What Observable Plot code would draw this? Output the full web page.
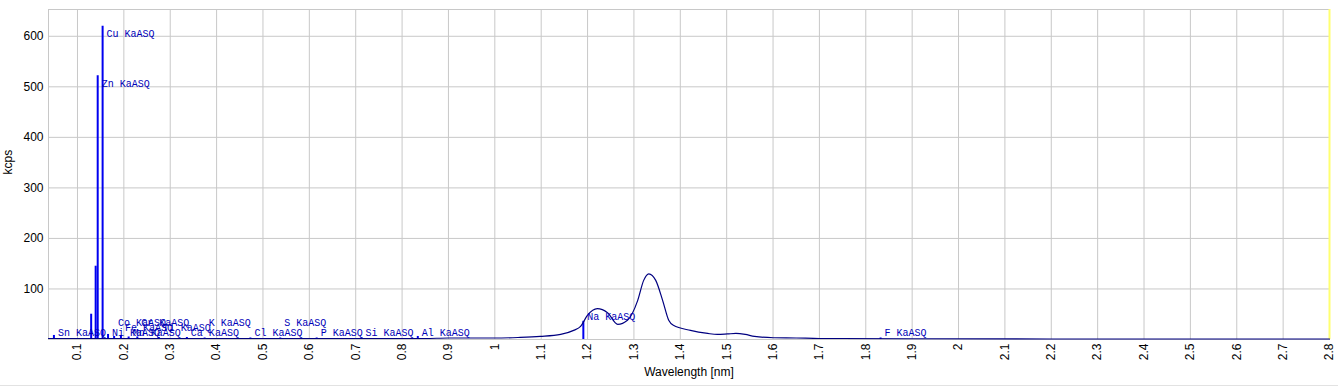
<!DOCTYPE html>
<html>
<head>
<meta charset="utf-8">
<script src="https://cdn.jsdelivr.net/npm/d3@7"></script>
<script src="https://cdn.jsdelivr.net/npm/@observablehq/plot@0.6"></script>
<style>
  html, body { margin: 0; padding: 0; background: #fff; }
  #chart { width: 1338px; height: 385px; border-bottom: 1px solid #e2e2e2; }
  #chart svg { display: block; }
</style>
</head>
<body>
<div id="chart"></div>
<script>
// Continuous spectrum (wavelength nm, intensity kcps)
const specWl = [0.0375, 0.06, 0.1, 0.2, 0.3, 0.4, 0.5, 0.6, 0.7, 0.8, 0.85, 0.9, 0.95, 1.0, 1.05, 1.098, 1.142, 1.17, 1.185, 1.2, 1.221, 1.243, 1.265, 1.286, 1.308, 1.321, 1.332, 1.347, 1.362, 1.375, 1.385, 1.422, 1.459, 1.48, 1.502, 1.52, 1.54, 1.56, 1.601, 1.65, 1.7, 1.745, 1.9, 2.2, 2.5, 2.8];
const specKcps = [2, 2, 2, 2, 2, 2, 2, 2, 2, 2, 2, 3, 3, 3, 4, 6, 10, 18, 26, 48, 61, 53, 30, 38, 77, 117, 130, 117, 77, 38, 28, 18, 12, 10, 11, 12, 10, 6, 3.5, 3, 2, 2, 1.5, 1, 1, 1];

// Line markers (element line, wavelength nm, peak kcps)
const lineNames = ["Sn KaASQ", "", "", "Zn KaASQ", "Cu KaASQ", "Ni KaASQ", "Co KaASQ", "Fe KaASQ", "Mn KaASQ", "Cr KaASQ", "Ti KaASQ", "Ca KaASQ", "K KaASQ", "Cl KaASQ", "S KaASQ", "P KaASQ", "Si KaASQ", "Al KaASQ", "Na KaASQ", "F KaASQ"];
const lineWl = [0.0492, 0.1295, 0.1392, 0.1436, 0.1542, 0.1659, 0.1790, 0.1937, 0.2103, 0.2291, 0.2750, 0.3359, 0.3742, 0.4729, 0.5373, 0.6158, 0.7126, 0.8339, 1.1909, 1.8319];
const lineKcps = [8, 50, 145, 522, 620, 10, 6, 8, 5, 5, 4, 4, 3, 3, 3, 3, 3, 6, 36, 3];

// Axis ticks
const xTicks = [0.1, 0.2, 0.3, 0.4, 0.5, 0.6, 0.7, 0.8, 0.9, 1, 1.1, 1.2, 1.3, 1.4, 1.5, 1.6, 1.7, 1.8, 1.9, 2, 2.1, 2.2, 2.3, 2.4, 2.5, 2.6, 2.7, 2.8];
const yTicks = [100, 200, 300, 400, 500, 600];
const xTitle = "Wavelength [nm]";
const yTitle = "kcps";

const xDomain = [0.0375, 2.8];
const pxPerNm = (1338 - 48 - 9) / (xDomain[1] - xDomain[0]);

const spectrum = specWl.map((w, i) => ({wl: w, kcps: specKcps[i]}));
const lines = lineWl.map((w, i) => {
  const near = spectrum.filter(d => Math.abs(d.wl - w) <= 0.04).map(d => d.kcps);
  const level = Math.max(lineKcps[i], ...near, 30);
  return {name: lineNames[i], wl: w, kcps: lineKcps[i], level, row: 0};
});
const labeled = lines.filter(d => d.name);
// simple greedy staggering of the crowded floor labels (3 rows)
const rowOffsets = [0, -10, -5];
const lastEnd = [-Infinity, -Infinity, -Infinity];
for (const d of labeled) {
  if (d.level > 30) continue;
  const start = (d.wl - xDomain[0]) * pxPerNm + 4;
  const width = d.name.length * 6;
  let r = [0, 1, 2].find(k => lastEnd[k] <= start);
  if (r === undefined) r = [0, 1, 2].reduce((a, b) => (lastEnd[b] < lastEnd[a] ? b : a), 0);
  d.row = r;
  lastEnd[r] = start + width;
}

const labelStyle = {x: "wl", y: "level", text: "name", textAnchor: "start", lineAnchor: "middle",
  dx: 4, fill: "#0000b8", fontFamily: "'Liberation Mono', 'DejaVu Sans Mono', monospace", fontSize: 10};

const chart = Plot.plot({
  width: 1338,
  height: 385,
  marginLeft: 48,
  marginRight: 9,
  marginTop: 9,
  marginBottom: 46,
  style: {fontFamily: "'Liberation Sans', Arial, sans-serif", fontSize: "12px", color: "#000", background: "#fff"},
  x: {domain: xDomain},
  y: {domain: [0, 653]},
  marks: [
    Plot.gridX(xTicks.filter(t => t < 2.8), {stroke: "#c8c8c8", strokeOpacity: 1}),
    Plot.gridY(yTicks, {stroke: "#c8c8c8", strokeOpacity: 1}),
    Plot.frame({stroke: "#c8c8c8"}),
    Plot.ruleX([2.8], {stroke: "#ffff70", strokeWidth: 2}),
    Plot.axisX({ticks: xTicks, tickRotate: -90, tickSize: 0, tickPadding: 4, label: null,
      tickFormat: d => String(+d.toFixed(1)), fontSize: 12, fill: "#000"}),
    Plot.axisY({ticks: yTicks, tickSize: 0, tickPadding: 5, label: null, fontSize: 12, fill: "#000"}),
    Plot.ruleX(lines, {x: "wl", y1: 0, y2: "kcps", stroke: "#0000f0", strokeWidth: 2}),
    Plot.line(spectrum, {x: "wl", y: "kcps", stroke: "#000080", strokeWidth: 1.2, curve: "monotone-x"}),
    ...rowOffsets.map((off, r) => Plot.text(labeled.filter(d => d.row === r), {...labelStyle, dy: 8 + off})),
    Plot.text([xTitle], {frameAnchor: "bottom", dy: 36, fontSize: 12, fill: "#000"}),
    Plot.text([yTitle], {frameAnchor: "left", dx: -40, rotate: -90, fontSize: 12, fill: "#000"})
  ]
});
document.getElementById("chart").appendChild(chart);
</script>
</body>
</html>
